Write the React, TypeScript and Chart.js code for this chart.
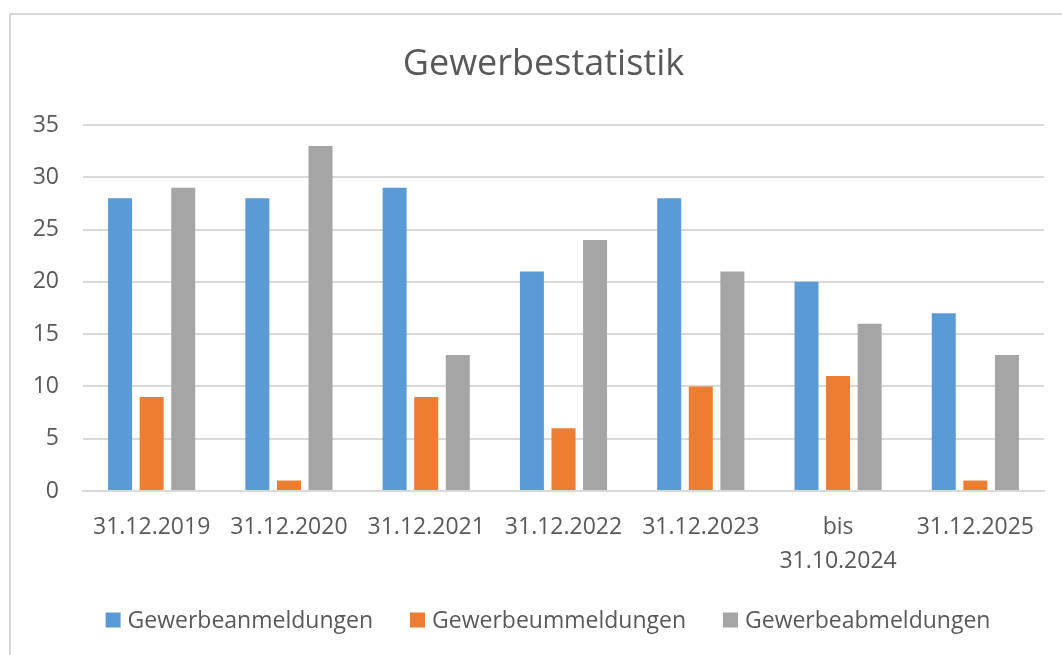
import React, { useEffect, useRef } from "react";
import { Chart, registerables } from "chart.js";

Chart.register(...registerables);

const chartTitle = "Gewerbestatistik";
const categories: (string | string[])[] = [
  "31.12.2019",
  "31.12.2020",
  "31.12.2021",
  "31.12.2022",
  "31.12.2023",
  ["bis", "31.10.2024"],
  "31.12.2025",
];
const seriesNames = ["Gewerbeanmeldungen", "Gewerbeummeldungen", "Gewerbeabmeldungen"];
const anmeldungen = [28, 28, 29, 21, 28, 20, 17];
const ummeldungen = [9, 1, 9, 6, 10, 11, 1];
const abmeldungen = [29, 33, 13, 24, 21, 16, 13];
const seriesColors = ["#5B9BD5", "#ED7D31", "#A5A5A5"];
const yMin = 0;
const yMax = 35;
const yStep = 5;

const FONT = '"Open Sans", "Liberation Sans", sans-serif';
const TEXT = "#595959";
const GRID = "#D9D9D9";

const titlePlugin = {
  id: "excelTitle",
  afterDraw(chart: any) {
    const ctx = chart.ctx as CanvasRenderingContext2D;
    ctx.save();
    ctx.font = `36px ${FONT}`;
    ctx.fillStyle = TEXT;
    ctx.textAlign = "center";
    ctx.textBaseline = "middle";
    ctx.fillText(chartTitle, 543.5, 65);
    ctx.restore();
  },
};

const legendPlugin = {
  id: "excelLegend",
  afterDraw(chart: any) {
    const ctx = chart.ctx as CanvasRenderingContext2D;
    ctx.save();
    ctx.font = `23px ${FONT}`;
    const box = 15;
    const gapText = 7;
    const gapItem = 37;
    const items = chart.data.datasets.map((d: any) => ({
      label: d.label as string,
      color: d.backgroundColor as string,
      w: ctx.measureText(d.label).width,
    }));
    const total =
      items.reduce((s: number, it: any) => s + box + gapText + it.w, 0) +
      gapItem * (items.length - 1);
    let x = 548 - total / 2;
    const cy = 620;
    ctx.textBaseline = "middle";
    ctx.textAlign = "left";
    for (const it of items) {
      ctx.fillStyle = it.color;
      ctx.fillRect(x, cy - box / 2, box, box);
      x += box + gapText;
      ctx.fillStyle = TEXT;
      ctx.fillText(it.label, x, cy + 1);
      x += it.w + gapItem;
    }
    ctx.restore();
  },
};

export default function App() {
  const ref = useRef<HTMLCanvasElement | null>(null);

  useEffect(() => {
    if (!ref.current) return;
    const data = [anmeldungen, ummeldungen, abmeldungen];
    const chart = new Chart(ref.current, {
      type: "bar",
      data: {
        labels: categories,
        datasets: seriesNames.map((name, i) => ({
          label: name,
          data: data[i],
          backgroundColor: seriesColors[i],
          borderWidth: 0,
          categoryPercentage: 0.69,
          barPercentage: 0.76,
        })),
      },
      options: {
        responsive: false,
        animation: false,
        devicePixelRatio: 1,
        layout: { padding: { left: 8.7, right: 18, top: 125, bottom: 57.3 } },
        plugins: {
          legend: { display: false },
          tooltip: { enabled: false },
          title: { display: false },
        },
        scales: {
          x: {
            grid: { display: false, drawTicks: false },
            border: { display: true, color: GRID, width: 2 },
            ticks: {
              color: TEXT,
              padding: 20,
              maxRotation: 0,
              autoSkip: false,
              font: { family: FONT, size: 23, lineHeight: 1.45 },
            },
          },
          y: {
            min: yMin,
            max: yMax,
            grid: { color: GRID, lineWidth: 2, drawTicks: false },
            border: { display: false },
            ticks: {
              stepSize: yStep,
              color: TEXT,
              padding: 24,
              font: { family: FONT, size: 23, lineHeight: 1.2 },
            },
          },
        },
      },
      plugins: [titlePlugin, legendPlugin],
    });
    return () => chart.destroy();
  }, []);

  return (
    <div
      style={{
        position: "fixed",
        left: 0,
        top: 0,
        width: 1062,
        height: 655,
        background: "#fff",
        overflow: "hidden",
      }}
    >
      <div
        style={{
          position: "absolute",
          left: 9,
          top: 13,
          width: 1200,
          height: 800,
          borderLeft: `2px solid ${GRID}`,
          borderTop: `2px solid ${GRID}`,
        }}
      />
      <canvas
        ref={ref}
        width={1062}
        height={655}
        style={{ position: "absolute", left: 0, top: 0, width: 1062, height: 655 }}
      />
    </div>
  );
}
